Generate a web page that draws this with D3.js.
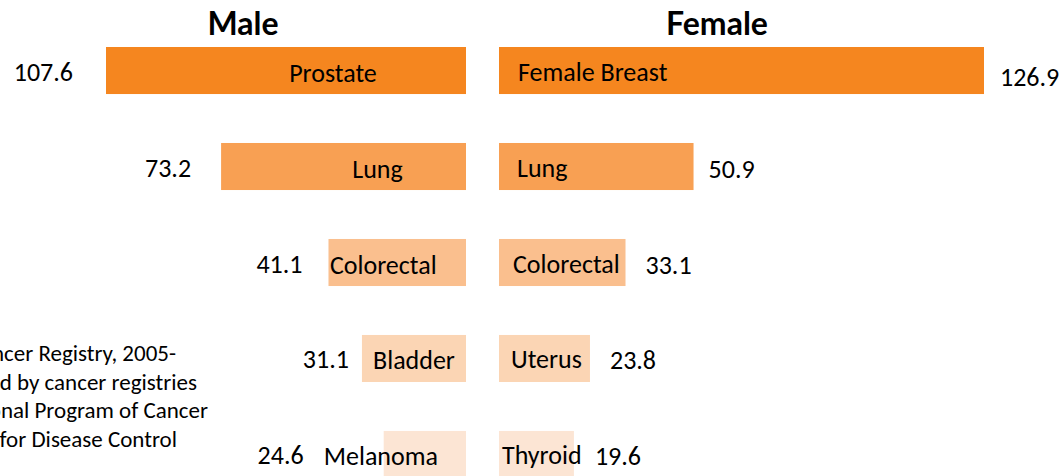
<!DOCTYPE html>
<html>
<head>
	<title>Cancer incidence by sex</title>
	<script src="https://d3js.org/d3.v7.min.js"></script>
	<style>
	*{
		margin:0;
		padding:0;
	}
	body { background:#fff; overflow:hidden; }
	svg { display:block; font-family: Carlito, Lato, sans-serif; }
	</style>
</head>
<body>
	<svg id="chart" width="1063" height="476"></svg>
	<script>
		// data
		var maleSites = ["Prostate", "Lung", "Colorectal", "Bladder", "Melanoma"];
		var maleRates = [107.6, 73.2, 41.1, 31.1, 24.6];
		var femaleSites = ["Female Breast", "Lung", "Colorectal", "Uterus", "Thyroid"];
		var femaleRates = [126.9, 50.9, 33.1, 23.8, 19.6];
		var rowColors = ["#f5861f", "#f8a053", "#fabf8e", "#fbd5b4", "#fce5d4"];
		var sourceLines = [
			"Source: State Cancer Registry, 2005-",
			"2009, as reported by cancer registries",
			"participating in the National Program of Cancer",
			"Registries, Centers for Disease Control"
		];

		// hand placement tweaks for the labels (the original was laid out by hand)
		var maleLabelShift = [47, 34, -14, 0, -44];
		var maleValueGap = [33, 30, 26, 13, 80];
		var femaleLabelPad = [19, 18, 14, 12, 3];
		var femaleValueGap = [16, 15, 20, 20, 21];

		var svg = d3.select("#chart");
		var midLeft = 466, midRight = 499;

		var y = d3.scaleBand()
			.domain(d3.range(maleSites.length))
			.range([47, 478])
			.paddingInner(0.51)
			.paddingOuter(0)
			.align(0);

		// the two halves were drawn with different widths per unit
		var xMale = d3.scaleLinear().domain([0, 107.6]).range([0, 360]);
		var xFemale = d3.scaleLinear().domain([0, 126.9]).range([0, 485]);

		var fs = 26;

		// titles
		svg.append("text")
			.attr("x", 243).attr("y", 35)
			.attr("text-anchor", "middle")
			.style("font-family", "Lato, sans-serif")
			.style("font-weight", 700)
			.style("font-size", "32px")
			.text("Male");
		svg.append("text")
			.attr("x", 717).attr("y", 35)
			.attr("text-anchor", "middle")
			.style("font-family", "Lato, sans-serif")
			.style("font-weight", 700)
			.style("font-size", "32px")
			.text("Female");

		// male side, bars grow to the left
		var male = svg.append("g").selectAll("g")
			.data(maleRates)
			.enter().append("g");

		male.append("rect")
			.attr("x", function(d){ return midLeft - xMale(d); })
			.attr("y", function(d, i){ return y(i); })
			.attr("width", function(d){ return xMale(d); })
			.attr("height", y.bandwidth())
			.attr("fill", function(d, i){ return rowColors[i]; });

		male.append("text")
			.attr("x", function(d, i){ return midLeft - xMale(d) / 2 + maleLabelShift[i]; })
			.attr("y", function(d, i){ return y(i) + y.bandwidth() / 2 + 11; })
			.attr("text-anchor", "middle")
			.style("font-size", fs + "px")
			.text(function(d, i){ return maleSites[i]; });

		male.append("text")
			.attr("x", function(d, i){ return midLeft - xMale(d) - maleValueGap[i]; })
			.attr("y", function(d, i){ return y(i) + y.bandwidth() / 2 + 10; })
			.attr("text-anchor", "end")
			.style("font-size", fs + "px")
			.text(function(d){ return d3.format(".1f")(d); });

		// female side, bars grow to the right
		var female = svg.append("g").selectAll("g")
			.data(femaleRates)
			.enter().append("g");

		female.append("rect")
			.attr("x", midRight)
			.attr("y", function(d, i){ return y(i); })
			.attr("width", function(d){ return xFemale(d); })
			.attr("height", y.bandwidth())
			.attr("fill", function(d, i){ return rowColors[i]; });

		female.append("text")
			.attr("x", function(d, i){ return midRight + femaleLabelPad[i]; })
			.attr("y", function(d, i){ return y(i) + y.bandwidth() / 2 + 10; })
			.style("font-size", fs + "px")
			.text(function(d, i){ return femaleSites[i]; });

		female.append("text")
			.attr("x", function(d, i){ return midRight + xFemale(d) + femaleValueGap[i]; })
			.attr("y", function(d, i){ return y(i) + y.bandwidth() / 2 + (i == 0 ? 15 : 11); })
			.style("font-size", fs + "px")
			.text(function(d){ return d3.format(".1f")(d); });

		// source note, runs off the left edge like in the original
		var lineEnds = [176, 197, 208, 177];
		svg.append("g").selectAll("text")
			.data(sourceLines)
			.enter().append("text")
			.attr("x", function(d, i){ return lineEnds[i]; })
			.attr("y", function(d, i){ return 361 + i * 28.7; })
			.attr("text-anchor", "end")
			.style("font-size", "23px")
			.text(function(d){ return d; });
	</script>
</body>
</html>
